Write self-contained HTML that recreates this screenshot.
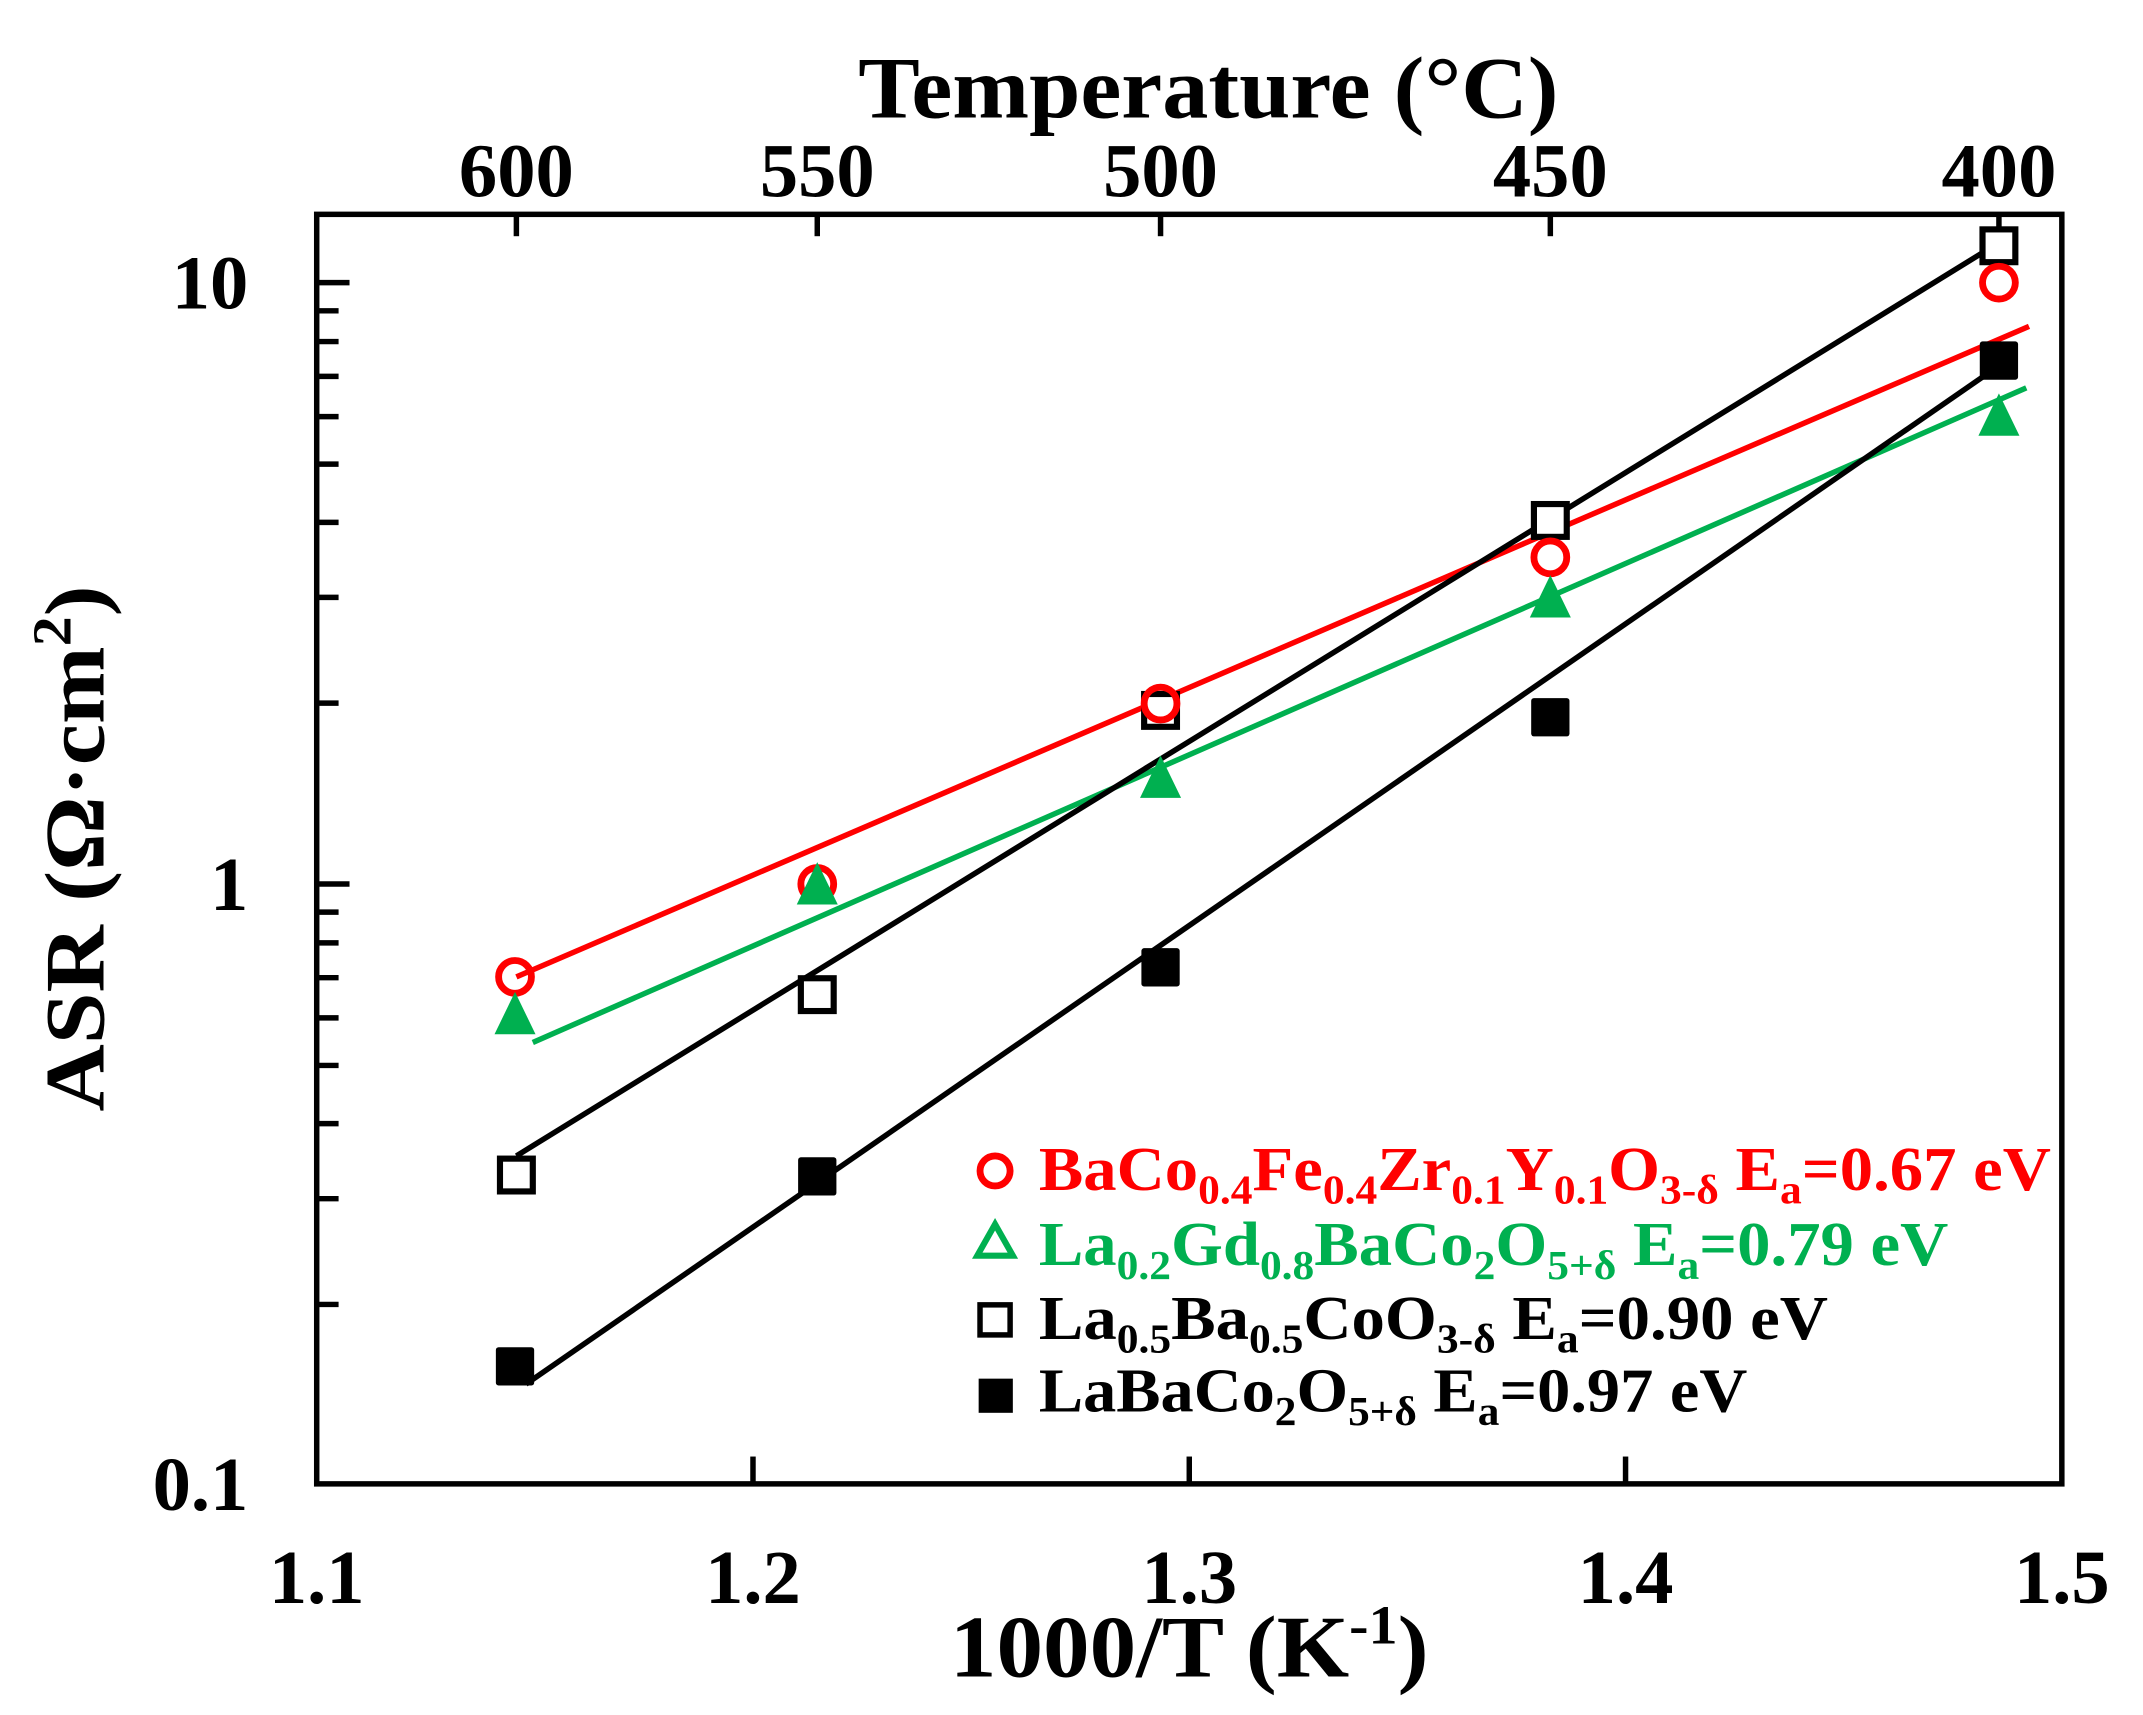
<!DOCTYPE html>
<html><head><meta charset="utf-8"><style>
html,body{margin:0;padding:0;background:#fff;}
svg{display:block;}
text{font-family:"Liberation Serif",serif;font-weight:bold;}
</style></head><body>
<svg width="2143" height="1715" viewBox="0 0 1559.7 1248.2" xmlns="http://www.w3.org/2000/svg">
<rect width="1559.7" height="1248.2" fill="#fff"/>
<g transform="translate(230.5,156) scale(0.9954,0.9946) translate(-232,-156)">
<rect x="232" y="156" width="1276" height="929" fill="none" stroke="#000" stroke-width="4"/>
<g stroke="#000" stroke-width="4">
<line x1="551" y1="1085" x2="551" y2="1065"/>
<line x1="870" y1="1085" x2="870" y2="1065"/>
<line x1="1189" y1="1085" x2="1189" y2="1065"/>
<line x1="378" y1="156" x2="378" y2="172"/>
<line x1="598" y1="156" x2="598" y2="172"/>
<line x1="849" y1="156" x2="849" y2="172"/>
<line x1="1134" y1="156" x2="1134" y2="172"/>
<line x1="1462" y1="156" x2="1462" y2="172"/>
<line x1="232" y1="206" x2="256" y2="206"/>
<line x1="232" y1="646" x2="256" y2="646"/>
<g id="mn">
<line x1="232" y1="953.7" x2="248" y2="953.7"/>
<line x1="232" y1="876.3" x2="248" y2="876.3"/>
<line x1="232" y1="821.4" x2="248" y2="821.4"/>
<line x1="232" y1="778.8" x2="248" y2="778.8"/>
<line x1="232" y1="744.0" x2="248" y2="744.0"/>
<line x1="232" y1="714.6" x2="248" y2="714.6"/>
<line x1="232" y1="689.1" x2="248" y2="689.1"/>
<line x1="232" y1="666.6" x2="248" y2="666.6"/>
</g>
<use href="#mn" transform="translate(0,-440)"/>
</g>
<g font-size="56" text-anchor="middle">
<text x="232" y="1172">1.1</text>
<text x="551" y="1172">1.2</text>
<text x="870" y="1172">1.3</text>
<text x="1189" y="1172">1.4</text>
<text x="1508" y="1172">1.5</text>
<text x="378" y="143">600</text>
<text x="598" y="143">550</text>
<text x="849" y="143">500</text>
<text x="1134" y="143">450</text>
<text x="1462" y="143">400</text>
</g>
<g font-size="56" text-anchor="end">
<text x="182" y="225">10</text>
<text x="182" y="665">1</text>
<text x="182" y="1104">0.1</text>
</g>
<text x="884" y="85" font-size="64" text-anchor="middle" textLength="512" lengthAdjust="spacingAndGlyphs">Temperature (°C)</text>
<text x="870" y="1226" font-size="64" text-anchor="middle" textLength="350" lengthAdjust="spacingAndGlyphs">1000/T (K<tspan font-size="40" dy="-24">-1</tspan><tspan dy="24">)</tspan></text>
<text transform="translate(76,620) rotate(-90)" font-size="62" text-anchor="middle" textLength="385" lengthAdjust="spacingAndGlyphs">ASR (Ω·cm<tspan font-size="40" dy="-24">2</tspan><tspan dy="24">)</tspan></text>
<g stroke-width="4" fill="none">
<line x1="378" y1="714" x2="1484" y2="238" stroke="#ff0000"/>
<line x1="390" y1="762" x2="1482" y2="283" stroke="#00b050"/>
<line x1="378" y1="845" x2="1468" y2="173" stroke="#000"/>
<line x1="385" y1="1012" x2="1466" y2="264" stroke="#000"/>
</g>
<g fill="#fff" stroke="#000" stroke-width="4.5">
<rect x="366" y="847" width="24" height="24"/>
<rect x="586" y="715" width="24" height="24"/>
<rect x="837" y="507" width="24" height="24"/>
<rect x="1122" y="368" width="24" height="24"/>
<rect x="1450" y="167" width="24" height="24"/>
</g>
<g fill="#000">
<rect x="363" y="985" width="28" height="28" rx="2"/>
<rect x="584" y="846" width="28" height="28" rx="2"/>
<rect x="835" y="693" width="28" height="28" rx="2"/>
<rect x="1120" y="510" width="28" height="28" rx="2"/>
<rect x="1448" y="249" width="28" height="28" rx="2"/>
</g>
<g fill="none" stroke="#ff0000" stroke-width="5">
<circle cx="377" cy="714" r="12"/>
<circle cx="598" cy="646" r="12"/>
<circle cx="849" cy="514" r="12"/>
<circle cx="1134" cy="407" r="12"/>
<circle cx="1462" cy="206" r="12"/>
</g>
<g fill="#00b050">
<polygon points="377,725 362,756 392,756"/>
<polygon points="598,630 583,661 613,661"/>
<polygon points="849,552 834,583 864,583"/>
<polygon points="1134,420 1119,451 1149,451"/>
<polygon points="1462,287 1447,318 1477,318"/>
</g>
<circle cx="728" cy="856" r="11" fill="none" stroke="#ff0000" stroke-width="5"/>
<polygon points="728,895 715,918 741,918" fill="none" stroke="#00b050" stroke-width="4.5"/>
<rect x="717" y="954" width="22" height="22" fill="none" stroke="#000" stroke-width="4"/>
<rect x="716" y="1008" width="25" height="25" fill="#000"/>
<g font-size="46">
<text x="760" y="870" fill="#ff0000" textLength="740" lengthAdjust="spacingAndGlyphs">BaCo<tspan font-size="30" dy="10">0.4</tspan><tspan dy="-10">Fe</tspan><tspan font-size="30" dy="10">0.4</tspan><tspan dy="-10">Zr</tspan><tspan font-size="30" dy="10">0.1</tspan><tspan dy="-10">Y</tspan><tspan font-size="30" dy="10">0.1</tspan><tspan dy="-10">O</tspan><tspan font-size="30" dy="10">3-δ</tspan><tspan dy="-10"> E</tspan><tspan font-size="30" dy="10">a</tspan><tspan dy="-10">=0.67 eV</tspan></text>
<text x="760" y="925" fill="#00b050" textLength="665" lengthAdjust="spacingAndGlyphs">La<tspan font-size="30" dy="10">0.2</tspan><tspan dy="-10">Gd</tspan><tspan font-size="30" dy="10">0.8</tspan><tspan dy="-10">BaCo</tspan><tspan font-size="30" dy="10">2</tspan><tspan dy="-10">O</tspan><tspan font-size="30" dy="10">5+δ</tspan><tspan dy="-10"> E</tspan><tspan font-size="30" dy="10">a</tspan><tspan dy="-10">=0.79 eV</tspan></text>
<text x="760" y="979" fill="#000" textLength="577" lengthAdjust="spacingAndGlyphs">La<tspan font-size="30" dy="10">0.5</tspan><tspan dy="-10">Ba</tspan><tspan font-size="30" dy="10">0.5</tspan><tspan dy="-10">CoO</tspan><tspan font-size="30" dy="10">3-δ</tspan><tspan dy="-10"> E</tspan><tspan font-size="30" dy="10">a</tspan><tspan dy="-10">=0.90 eV</tspan></text>
<text x="760" y="1032" fill="#000" textLength="518" lengthAdjust="spacingAndGlyphs">LaBaCo<tspan font-size="30" dy="10">2</tspan><tspan dy="-10">O</tspan><tspan font-size="30" dy="10">5+δ</tspan><tspan dy="-10"> E</tspan><tspan font-size="30" dy="10">a</tspan><tspan dy="-10">=0.97 eV</tspan></text>
</g>
</g>
</svg>
</body></html>
